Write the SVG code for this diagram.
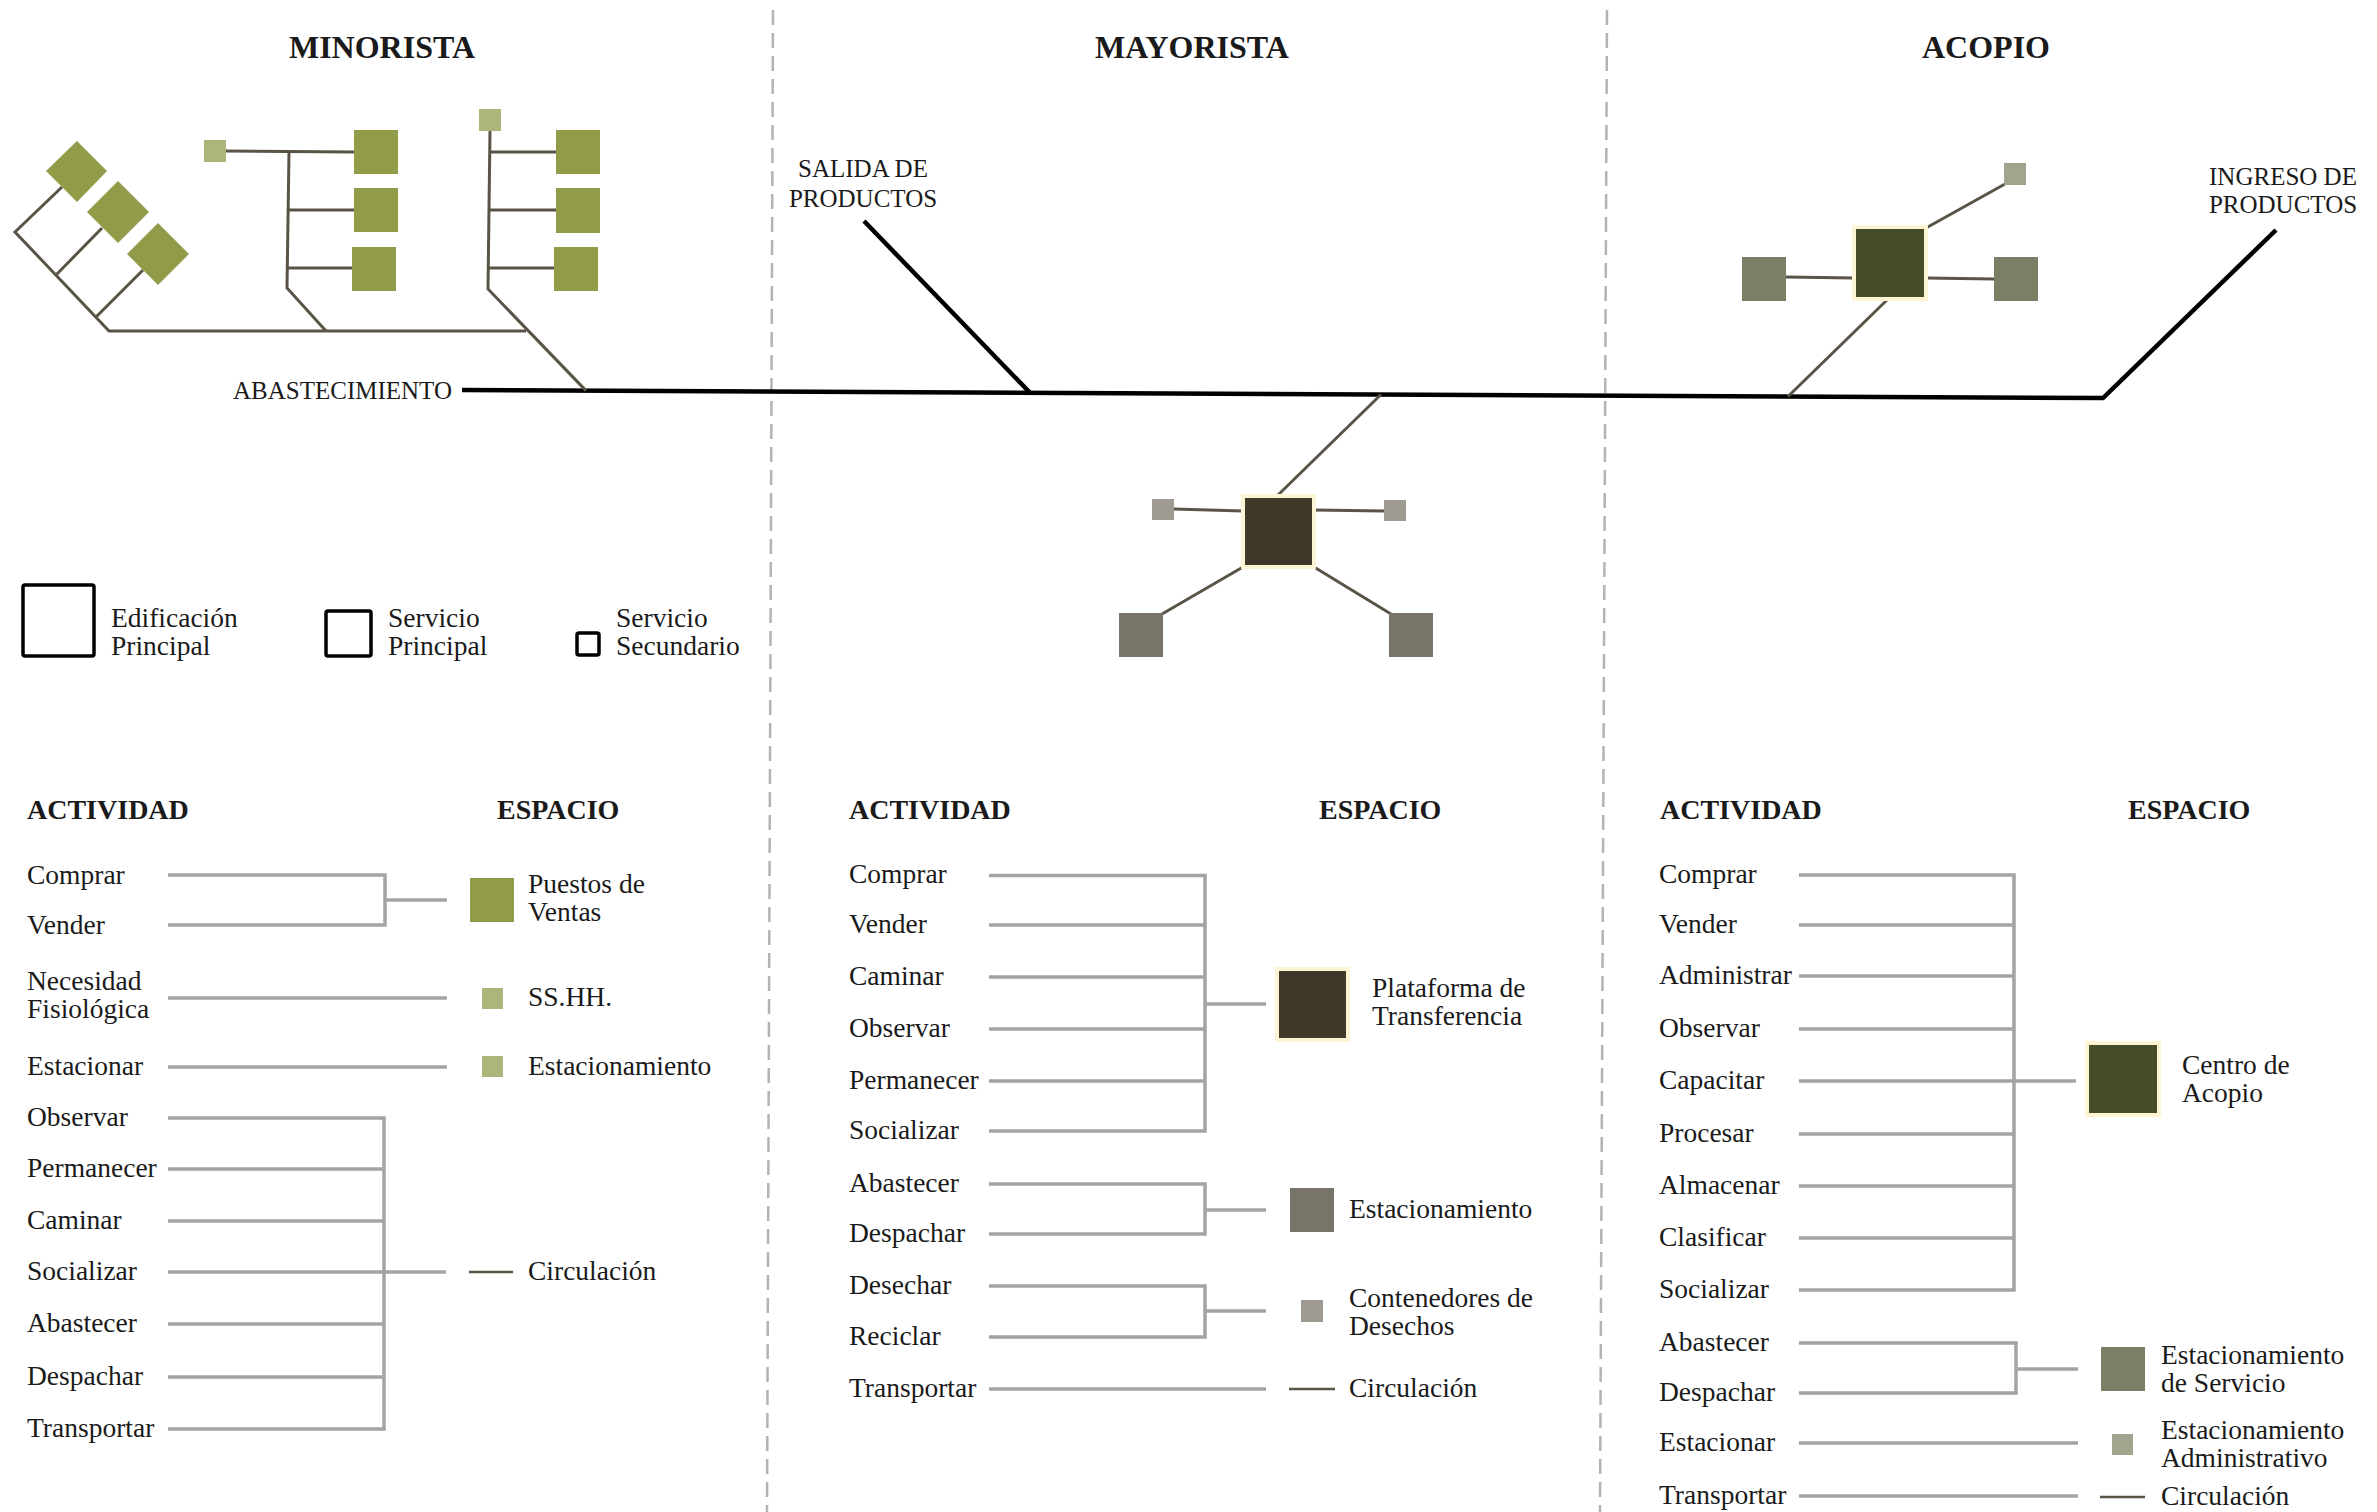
<svg xmlns="http://www.w3.org/2000/svg" width="2377" height="1512" viewBox="0 0 2377 1512">
<style>
text{font-family:"Liberation Serif","Times New Roman",serif;fill:#1a1a1a}
.t{font-size:27.5px}
.h{font-size:32px;font-weight:bold}
.hs{font-size:28px;font-weight:bold}
.s{font-size:25px}
.ab{font-size:25px}
.div{stroke:#b3b3b3;stroke-width:2.5;stroke-dasharray:15 8;fill:none}
.road{stroke:#000;stroke-width:4.5;fill:none;stroke-linejoin:miter}
.tr{stroke:#5a5446;stroke-width:3;fill:none}
.tb{stroke:#a3a3a3;stroke-width:3.5;fill:none}
.cl{stroke:#5a5446;stroke-width:2.5;fill:none}
.lg{fill:none;stroke:#000;stroke-width:3.5}
.g1{fill:#929b48}
.g2{fill:#adb57a}
.m1{fill:#403828;stroke:#fcf4d2;stroke-width:4}
.m2{fill:#79746a}
.m3{fill:#a09b92}
.a1{fill:#464c27;stroke:#fcf4d2;stroke-width:4}
.a2{fill:#7b7f66}
.a3{fill:#a2a58e}
</style>

<g id="dividers">
<line class="div" x1="773" y1="10" x2="767" y2="1512"/>
<line class="div" x1="1607" y1="10" x2="1600" y2="1512"/>
</g>

<g id="titles">
<text class="h" x="382" y="58" text-anchor="middle">MINORISTA</text>
<text class="h" x="1192" y="58" text-anchor="middle">MAYORISTA</text>
<text class="h" x="1986" y="58" text-anchor="middle">ACOPIO</text>
</g>

<g id="connectors">
<!-- main road -->
<polyline class="road" points="462,390 2103,398 2276,230"/>
<line class="road" x1="864" y1="221" x2="1030" y2="392.8"/>
<!-- minorista tree -->
<polyline class="tr" points="62,187 15,232 109,331 526,331"/>
<line class="tr" x1="102" y1="228" x2="56" y2="275"/>
<line class="tr" x1="143" y1="270" x2="96" y2="317"/>
<polyline class="tr" points="289,152 287,288 326,331"/>
<line class="tr" x1="226" y1="151" x2="354" y2="152"/>
<line class="tr" x1="289" y1="210" x2="354" y2="210"/>
<line class="tr" x1="288" y1="268" x2="352" y2="268"/>
<polyline class="tr" points="490,131 488,289 586,390.6"/>
<line class="tr" x1="490" y1="152" x2="556" y2="152"/>
<line class="tr" x1="489" y1="210" x2="556" y2="210"/>
<line class="tr" x1="489" y1="268" x2="554" y2="268"/>
<!-- mayorista cluster -->
<line class="tr" x1="1381" y1="394.5" x2="1278" y2="495"/>
<line class="tr" x1="1174" y1="509" x2="1243" y2="511"/>
<line class="tr" x1="1314" y1="510" x2="1384" y2="511"/>
<line class="tr" x1="1243" y1="567" x2="1162" y2="614"/>
<line class="tr" x1="1314" y1="567" x2="1391" y2="614"/>
<!-- acopio cluster -->
<line class="tr" x1="1788" y1="396.5" x2="1887" y2="300"/>
<line class="tr" x1="1786" y1="277" x2="1854" y2="278"/>
<line class="tr" x1="1926" y1="278" x2="1994" y2="279"/>
<line class="tr" x1="1926" y1="228" x2="2005" y2="184"/>

<!-- minorista table -->
<polyline class="tb" points="168,875 385,875 385,925 168,925"/>
<line class="tb" x1="385" y1="900" x2="447" y2="900"/>
<line class="tb" x1="168" y1="998" x2="447" y2="998"/>
<line class="tb" x1="168" y1="1067" x2="447" y2="1067"/>
<polyline class="tb" points="168,1118 384,1118 384,1429 168,1429"/>
<line class="tb" x1="168" y1="1169" x2="384" y2="1169"/>
<line class="tb" x1="168" y1="1221" x2="384" y2="1221"/>
<line class="tb" x1="168" y1="1272" x2="446" y2="1272"/>
<line class="tb" x1="168" y1="1324" x2="384" y2="1324"/>
<line class="tb" x1="168" y1="1377" x2="384" y2="1377"/>

<!-- mayorista table -->
<polyline class="tb" points="989,875.5 1205,875.5 1205,1131 989,1131"/>
<line class="tb" x1="989" y1="925" x2="1205" y2="925"/>
<line class="tb" x1="989" y1="977" x2="1205" y2="977"/>
<line class="tb" x1="989" y1="1029" x2="1205" y2="1029"/>
<line class="tb" x1="989" y1="1081" x2="1205" y2="1081"/>
<line class="tb" x1="1205" y1="1004" x2="1266" y2="1004"/>
<polyline class="tb" points="989,1184 1205,1184 1205,1234 989,1234"/>
<line class="tb" x1="1205" y1="1210" x2="1266" y2="1210"/>
<polyline class="tb" points="989,1286 1205,1286 1205,1337 989,1337"/>
<line class="tb" x1="1205" y1="1311" x2="1266" y2="1311"/>
<line class="tb" x1="989" y1="1389" x2="1266" y2="1389"/>

<!-- acopio table -->
<polyline class="tb" points="1799,875 2014,875 2014,1290 1799,1290"/>
<line class="tb" x1="1799" y1="925" x2="2014" y2="925"/>
<line class="tb" x1="1799" y1="976" x2="2014" y2="976"/>
<line class="tb" x1="1799" y1="1029" x2="2014" y2="1029"/>
<line class="tb" x1="1799" y1="1081" x2="2076" y2="1081"/>
<line class="tb" x1="1799" y1="1134" x2="2014" y2="1134"/>
<line class="tb" x1="1799" y1="1186" x2="2014" y2="1186"/>
<line class="tb" x1="1799" y1="1238" x2="2014" y2="1238"/>
<polyline class="tb" points="1799,1343 2016,1343 2016,1393 1799,1393"/>
<line class="tb" x1="2016" y1="1369" x2="2078" y2="1369"/>
<line class="tb" x1="1799" y1="1443" x2="2078" y2="1443"/>
<line class="tb" x1="1799" y1="1496" x2="2078" y2="1496"/>
</g>

<!-- road labels -->
<g id="lbl-abastecimiento"><text class="ab" x="452" y="399" text-anchor="end">ABASTECIMIENTO</text></g>
<g id="lbl-salida"><text class="s" x="863" y="177" text-anchor="middle">SALIDA DE</text><text class="s" x="863" y="207" text-anchor="middle">PRODUCTOS</text></g>
<g id="lbl-ingreso"><text class="s" x="2283" y="185" text-anchor="middle">INGRESO DE</text><text class="s" x="2283" y="213" text-anchor="middle">PRODUCTOS</text></g>

<!-- minorista nodes -->
<g id="min-diamond-1"><polygon class="g1" points="77,141 107,171 77,202 46,171"/></g>
<g id="min-diamond-2"><polygon class="g1" points="118,181 149,212 118,243 87,212"/></g>
<g id="min-diamond-3"><polygon class="g1" points="158,223 189,254 158,285 127,254"/></g>
<g id="min-t2-small"><rect class="g2" x="204" y="140" width="22" height="22"/></g>
<g id="min-t2-r1"><rect class="g1" x="354" y="130" width="44" height="44"/></g>
<g id="min-t2-r2"><rect class="g1" x="354" y="188" width="44" height="44"/></g>
<g id="min-t2-r3"><rect class="g1" x="352" y="247" width="44" height="44"/></g>
<g id="min-t3-small"><rect class="g2" x="479" y="109" width="22" height="22"/></g>
<g id="min-t3-r1"><rect class="g1" x="556" y="130" width="44" height="44"/></g>
<g id="min-t3-r2"><rect class="g1" x="556" y="188" width="44" height="45"/></g>
<g id="min-t3-r3"><rect class="g1" x="554" y="247" width="44" height="44"/></g>

<!-- mayorista nodes -->
<g id="may-center"><rect class="m1" x="1243" y="496" width="71" height="71"/></g>
<g id="may-small-l"><rect class="m3" x="1152" y="499" width="22" height="21"/></g>
<g id="may-small-r"><rect class="m3" x="1384" y="500" width="22" height="21"/></g>
<g id="may-big-l"><rect class="m2" x="1119" y="613" width="44" height="44"/></g>
<g id="may-big-r"><rect class="m2" x="1389" y="613" width="44" height="44"/></g>

<!-- acopio nodes -->
<g id="aco-center"><rect class="a1" x="1854" y="227" width="72" height="72"/></g>
<g id="aco-l"><rect class="a2" x="1742" y="257" width="44" height="44"/></g>
<g id="aco-r"><rect class="a2" x="1994" y="257" width="44" height="44"/></g>
<g id="aco-small"><rect class="a3" x="2004" y="163" width="22" height="22"/></g>

<!-- legend -->
<g id="legend-edificacion"><rect class="lg" x="23" y="585" width="71" height="71" rx="2"/><text class="t" x="111" y="627">Edificación</text><text class="t" x="111" y="655">Principal</text></g>
<g id="legend-servicio-principal"><rect class="lg" x="326" y="611" width="45" height="45" rx="2"/><text class="t" x="388" y="627">Servicio</text><text class="t" x="388" y="655">Principal</text></g>
<g id="legend-servicio-secundario"><rect class="lg" x="577" y="633" width="22" height="22" rx="2"/><text class="t" x="616" y="627">Servicio</text><text class="t" x="616" y="655">Secundario</text></g>

<!-- minorista table -->
<g id="min-table-head"><text class="hs" x="27" y="819">ACTIVIDAD</text><text class="hs" x="497" y="819">ESPACIO</text></g>
<g id="min-activities" transform="translate(0,-1.5)">
<text class="t" x="27" y="885">Comprar</text>
<text class="t" x="27" y="935">Vender</text>
<text class="t" x="27" y="991">Necesidad</text>
<text class="t" x="27" y="1019">Fisiológica</text>
<text class="t" x="27" y="1076">Estacionar</text>
<text class="t" x="27" y="1127">Observar</text>
<text class="t" x="27" y="1178">Permanecer</text>
<text class="t" x="27" y="1230">Caminar</text>
<text class="t" x="27" y="1281">Socializar</text>
<text class="t" x="27" y="1333">Abastecer</text>
<text class="t" x="27" y="1386">Despachar</text>
<text class="t" x="27" y="1438">Transportar</text>
</g>
<g id="min-sp-puestos"><rect class="g1" x="470" y="878" width="44" height="44"/><text class="t" x="528" y="893">Puestos de</text><text class="t" x="528" y="921">Ventas</text></g>
<g id="min-sp-sshh"><rect class="g2" x="482" y="988" width="21" height="21"/><text class="t" x="528" y="1006">SS.HH.</text></g>
<g id="min-sp-estac"><rect class="g2" x="482" y="1056" width="21" height="21"/><text class="t" x="528" y="1075">Estacionamiento</text></g>
<g id="min-sp-circ"><line class="cl" x1="469" y1="1272" x2="513" y2="1272"/><text class="t" x="528" y="1280">Circulación</text></g>

<!-- mayorista table -->
<g id="may-table-head"><text class="hs" x="849" y="819">ACTIVIDAD</text><text class="hs" x="1319" y="819">ESPACIO</text></g>
<g id="may-activities" transform="translate(0,-2)">
<text class="t" x="849" y="885">Comprar</text>
<text class="t" x="849" y="934.5">Vender</text>
<text class="t" x="849" y="986.5">Caminar</text>
<text class="t" x="849" y="1038.5">Observar</text>
<text class="t" x="849" y="1090.5">Permanecer</text>
<text class="t" x="849" y="1140.5">Socializar</text>
<text class="t" x="849" y="1193.5">Abastecer</text>
<text class="t" x="849" y="1243.5">Despachar</text>
<text class="t" x="849" y="1295.5">Desechar</text>
<text class="t" x="849" y="1346.5">Reciclar</text>
<text class="t" x="849" y="1398.5">Transportar</text>
</g>
<g id="may-sp-plataforma"><rect class="m1" x="1277" y="969" width="71" height="71"/><text class="t" x="1372" y="997">Plataforma de</text><text class="t" x="1372" y="1025">Transferencia</text></g>
<g id="may-sp-estac"><rect class="m2" x="1290" y="1188" width="44" height="44"/><text class="t" x="1349" y="1218">Estacionamiento</text></g>
<g id="may-sp-contenedores"><rect class="m3" x="1301" y="1300" width="22" height="22"/><text class="t" x="1349" y="1307">Contenedores de</text><text class="t" x="1349" y="1335">Desechos</text></g>
<g id="may-sp-circ"><line class="cl" x1="1289" y1="1389" x2="1335" y2="1389"/><text class="t" x="1349" y="1397">Circulación</text></g>

<!-- acopio table -->
<g id="aco-table-head"><text class="hs" x="1660" y="819">ACTIVIDAD</text><text class="hs" x="2128" y="819">ESPACIO</text></g>
<g id="aco-activities" transform="translate(0,-1.5)">
<text class="t" x="1659" y="884.5">Comprar</text>
<text class="t" x="1659" y="934.5">Vender</text>
<text class="t" x="1659" y="985.5">Administrar</text>
<text class="t" x="1659" y="1038.5">Observar</text>
<text class="t" x="1659" y="1090.5">Capacitar</text>
<text class="t" x="1659" y="1143.5">Procesar</text>
<text class="t" x="1659" y="1195.5">Almacenar</text>
<text class="t" x="1659" y="1247.5">Clasificar</text>
<text class="t" x="1659" y="1299.5">Socializar</text>
<text class="t" x="1659" y="1352.5">Abastecer</text>
<text class="t" x="1659" y="1402.5">Despachar</text>
<text class="t" x="1659" y="1452.5">Estacionar</text>
<text class="t" x="1659" y="1505.5">Transportar</text>
</g>
<g id="aco-sp-centro"><rect class="a1" x="2087" y="1043" width="72" height="72"/><text class="t" x="2182" y="1074">Centro de</text><text class="t" x="2182" y="1102">Acopio</text></g>
<g id="aco-sp-estac-serv"><rect class="a2" x="2101" y="1347" width="44" height="44"/><text class="t" x="2161" y="1364">Estacionamiento</text><text class="t" x="2161" y="1392">de Servicio</text></g>
<g id="aco-sp-estac-adm"><rect class="a3" x="2112" y="1434" width="21" height="21"/><text class="t" x="2161" y="1439">Estacionamiento</text><text class="t" x="2161" y="1467">Administrativo</text></g>
<g id="aco-sp-circ"><line class="cl" x1="2100" y1="1497" x2="2145" y2="1497"/><text class="t" x="2161" y="1505">Circulación</text></g>
</svg>
